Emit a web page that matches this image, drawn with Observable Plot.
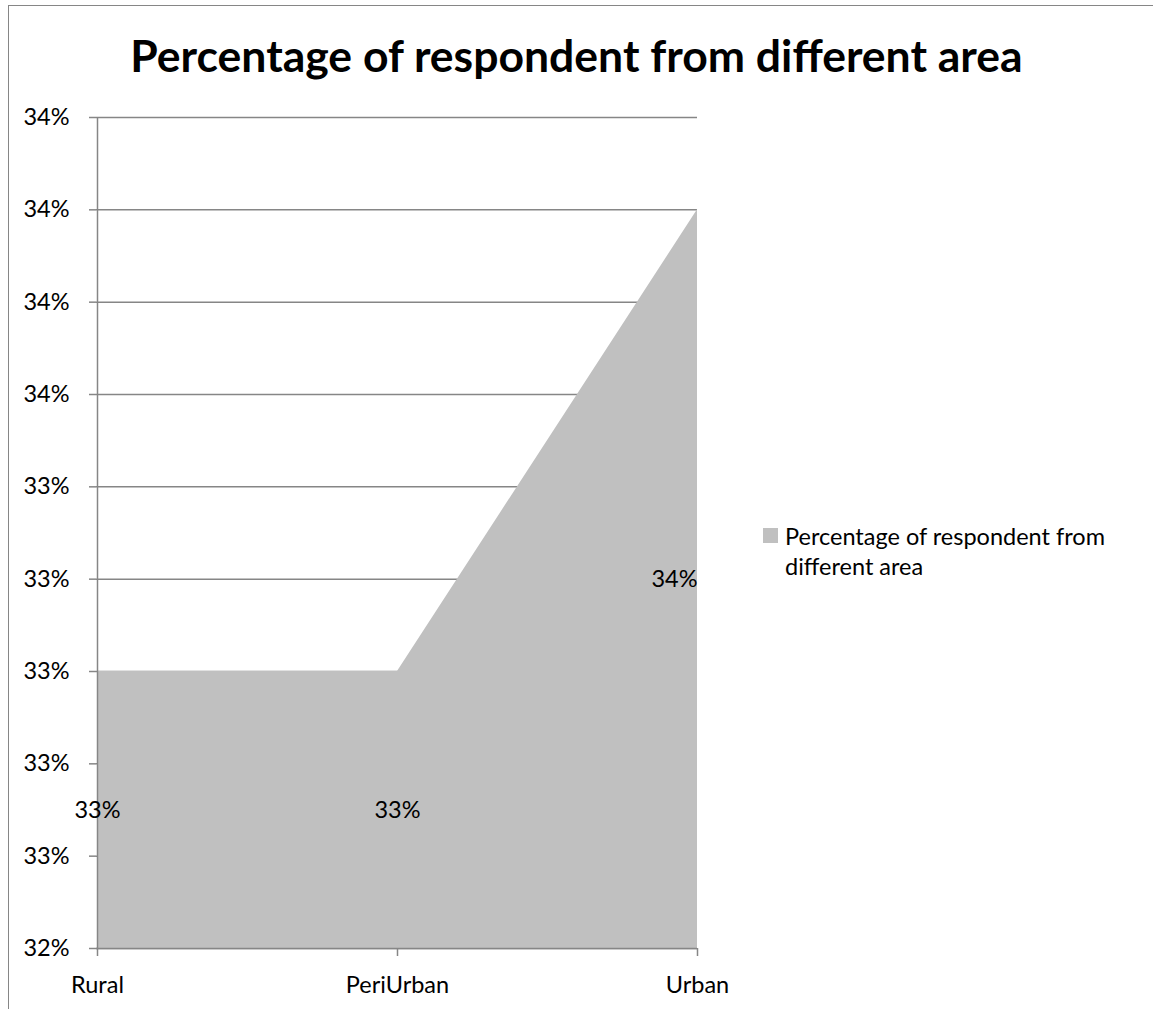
<!DOCTYPE html>
<html>
<head>
<meta charset="utf-8">
<script src="https://cdn.jsdelivr.net/npm/d3@7"></script>
<script src="https://cdn.jsdelivr.net/npm/@observablehq/plot@0.6"></script>
<style>
  html, body { margin: 0; padding: 0; background: #fff; overflow: hidden; }
  #page { position: relative; width: 1153px; height: 1009px; font-family: Lato, "Open Sans", sans-serif; }
  #frame { position: absolute; left: 8px; top: 5px; width: 1160px; height: 1020px;
           border-left: 1.5px solid #868686; border-top: 1.5px solid #868686; }
  #title { position: absolute; left: 0; top: 0; width: 1153px; height: 100px; line-height: 110px;
           text-align: center; font-weight: bold; font-size: 44.5px; color: #000; }
  #chart { position: absolute; left: 0; top: 100px; }
  #legend { position: absolute; left: 763px; top: 521px; font-size: 23.5px; color: #000; line-height: 30px; }
  #legend .swatch { position: absolute; left: 0; top: 7px; width: 15px; height: 15px; background: #c0c0c0; }
  #legend .label { margin-left: 22px; }
</style>
</head>
<body>
<div id="page">
  <div id="frame"></div>
  <div id="title">Percentage of respondent from different area</div>
  <div id="chart"></div>
  <div id="legend"><div class="swatch"></div><div class="label">Percentage of respondent from<br>different area</div></div>
</div>
<script>
// Share of respondents by area (percent)
const areas = ["Rural", "PeriUrban", "Urban"];
const shares = [33, 33, 34];
// Value axis: Excel-style ticks every 0.2 points, labelled as whole percents
const yTicks = [32.4, 32.6, 32.8, 33.0, 33.2, 33.4, 33.6, 33.8, 34.0, 34.2];
const yBase = 32.4;
const yTop = 34.2;

const data = areas.map((a, i) => ({area: a, value: shares[i]}));
const pct = d => `${Math.round(d)}%`;
const axisColor = "#868686";
const fill = "#c0c0c0";
const font = "Lato, 'Open Sans', sans-serif";
const fs = 23.5;

const chart = Plot.plot({
  width: 1153,
  height: 909,
  marginTop: 17,
  marginBottom: 61,
  marginLeft: 96,
  marginRight: 456,
  style: {fontFamily: font, fontSize: `${fs}px`, color: "#000", background: "transparent"},
  x: {type: "point", domain: areas, padding: 0, label: null},
  y: {domain: [yBase, yTop], label: null},
  marks: [
    Plot.ruleY(yTicks, {stroke: axisColor, strokeWidth: 1.5, strokeOpacity: 1}),
    Plot.areaY(data, {x: "area", y1: yBase, y2: "value", fill, fillOpacity: 1}),
    Plot.ruleX([areas[0]], {y1: yBase, y2: yTop, stroke: axisColor, strokeWidth: 1.5}),
    Plot.ruleY([yBase], {stroke: axisColor, strokeWidth: 1.5}),
    Plot.axisY({ticks: yTicks, tickFormat: pct, tickSize: 7, tickPadding: 20, stroke: axisColor, strokeWidth: 1.5,
                fontFamily: font, fontSize: fs, fill: "#000"}),
    Plot.axisX({tickSize: 8, tickPadding: 20, stroke: axisColor, strokeWidth: 1.5,
                fontFamily: font, fontSize: fs, fill: "#000"}),
    // value labels sit halfway up the filled area
    Plot.text(data.slice(0, 2), {x: "area", y: d => (yBase + d.value) / 2, text: d => pct(d.value),
                                 fontFamily: font, fontSize: fs, fill: "#000", textAnchor: "middle"}),
    Plot.text(data.slice(2), {x: "area", y: d => (yBase + d.value) / 2, text: d => pct(d.value),
                              fontFamily: font, fontSize: fs, fill: "#000", textAnchor: "end"})
  ]
});
document.getElementById("chart").append(chart);
</script>
</body>
</html>
